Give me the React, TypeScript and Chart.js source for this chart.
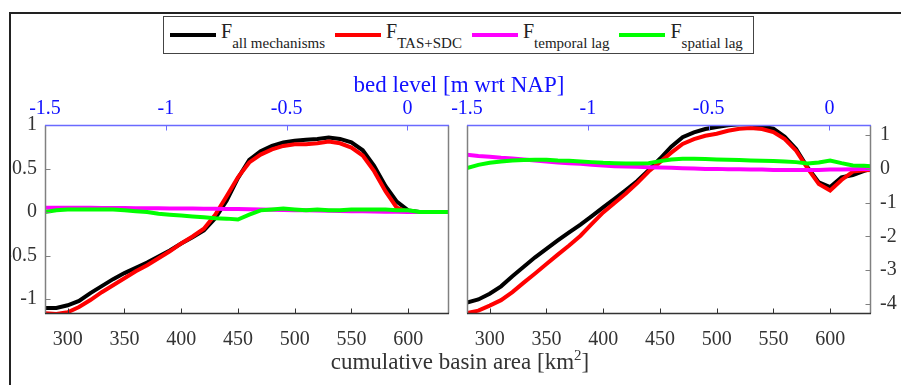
import React, { useEffect, useRef } from "react";
import { Chart, registerables } from "chart.js";

Chart.register(...registerables);

// ---------------- data ----------------
const basinArea = [280, 290, 300, 310, 320, 330, 340, 350, 360, 370, 380, 390, 400, 410, 420, 430, 440, 450, 460, 470, 480, 490, 500, 510, 520, 530, 540, 550, 560, 570, 580, 590, 600, 610, 620, 630, 636];

const leftAllMechanisms = [-1.10, -1.10, -1.07, -1.02, -0.93, -0.85, -0.77, -0.70, -0.64, -0.58, -0.51, -0.44, -0.36, -0.29, -0.21, -0.07, 0.13, 0.39, 0.60, 0.70, 0.76, 0.80, 0.82, 0.83, 0.84, 0.855, 0.84, 0.80, 0.71, 0.53, 0.30, 0.12, 0.02, 0.0, 0.0, 0.0, 0.0];
const leftTasSdc = [-1.16, -1.17, -1.15, -1.09, -1.01, -0.92, -0.84, -0.76, -0.68, -0.61, -0.53, -0.45, -0.36, -0.28, -0.19, -0.03, 0.18, 0.40, 0.57, 0.66, 0.72, 0.76, 0.78, 0.78, 0.79, 0.81, 0.79, 0.74, 0.65, 0.47, 0.24, 0.05, 0.0, 0.0, 0.0, 0.0, 0.0];
const leftTemporalLag = [0.05, 0.05, 0.05, 0.05, 0.05, 0.048, 0.047, 0.046, 0.045, 0.044, 0.043, 0.042, 0.04, 0.04, 0.039, 0.038, 0.036, 0.035, 0.033, 0.03, 0.028, 0.025, 0.022, 0.02, 0.018, 0.015, 0.013, 0.011, 0.009, 0.007, 0.005, 0.003, 0.002, 0.0, 0.0, 0.0, 0.0];
const leftSpatialLag = [0.0, 0.02, 0.03, 0.03, 0.03, 0.03, 0.03, 0.02, 0.01, 0.0, -0.02, -0.03, -0.04, -0.05, -0.06, -0.07, -0.075, -0.085, -0.03, 0.02, 0.03, 0.04, 0.03, 0.02, 0.03, 0.02, 0.02, 0.03, 0.03, 0.03, 0.03, 0.02, 0.02, 0.0, 0.0, 0.0, 0.0];

const rightAllMechanisms = [-3.96, -3.87, -3.70, -3.48, -3.18, -2.90, -2.62, -2.37, -2.12, -1.88, -1.65, -1.40, -1.14, -0.89, -0.63, -0.36, -0.04, 0.30, 0.66, 0.94, 1.08, 1.18, 1.24, 1.29, 1.32, 1.32, 1.25, 1.19, 0.95, 0.59, 0.05, -0.40, -0.54, -0.25, -0.18, -0.06, 0.0];
const rightTasSdc = [-4.27, -4.20, -4.05, -3.89, -3.65, -3.37, -3.10, -2.82, -2.54, -2.27, -1.98, -1.63, -1.29, -1.01, -0.73, -0.42, -0.08, 0.20, 0.48, 0.74, 0.88, 0.98, 1.04, 1.13, 1.19, 1.21, 1.18, 1.09, 0.88, 0.54, 0.02, -0.45, -0.64, -0.33, -0.08, -0.04, -0.03];
const rightTemporalLag = [0.42, 0.38, 0.36, 0.33, 0.31, 0.28, 0.25, 0.22, 0.19, 0.17, 0.15, 0.12, 0.10, 0.08, 0.07, 0.06, 0.05, 0.04, 0.03, 0.02, 0.01, 0.0, 0.0, -0.01, -0.01, -0.02, -0.02, -0.03, -0.03, -0.03, -0.03, -0.03, -0.02, -0.02, -0.01, 0.0, 0.0];
const rightSpatialLag = [0.02, 0.12, 0.18, 0.22, 0.25, 0.26, 0.27, 0.27, 0.25, 0.24, 0.22, 0.20, 0.18, 0.17, 0.16, 0.16, 0.17, 0.23, 0.28, 0.30, 0.30, 0.29, 0.28, 0.27, 0.26, 0.25, 0.24, 0.23, 0.22, 0.20, 0.16, 0.19, 0.25, 0.17, 0.10, 0.09, 0.08];

const seriesSubscripts = ["all mechanisms", "TAS+SDC", "temporal lag", "spatial lag"];
const seriesColors = ["#000000", "#ff0000", "#ff00ff", "#00ff00"];

const areaTicks = [300, 350, 400, 450, 500, 550, 600];
const bedLevelTicks = [-1.5, -1, -0.5, 0];
const leftYTicks = [-1, -0.5, 0, 0.5, 1];
const rightYTicks = [-4, -3, -2, -1, 0, 1];

const bottomTitle = "cumulative basin area [km";
const topTitle = "bed level [m wrt NAP]";

// ---------------- styling ----------------
const FONT = '"Liberation Serif", "Times New Roman", serif';
const AXIS_TEXT = "#333333";
const BLUE_TEXT = "#1010ff";
const BLUE_LINE = "#6a6aff";
const GRAY_LINE = "#808080";

const framePlugin = {
  id: "panelFrame",
  afterDraw(chart: any, _args: any, opts: any) {
    const { ctx, chartArea: a, scales } = chart;
    const line = (x1: number, y1: number, x2: number, y2: number, color: string, w: number) => {
      ctx.beginPath();
      ctx.strokeStyle = color;
      ctx.lineWidth = w;
      ctx.moveTo(x1, y1);
      ctx.lineTo(x2, y2);
      ctx.stroke();
    };
    ctx.save();
    const L = Math.round(a.left) + 0.5;
    const R = Math.round(a.right) - 0.5;
    const T = Math.round(a.top) + 0.5;
    const B = Math.round(a.bottom) - 0.5;
    const tl = 5;
    scales.x.ticks.forEach((t: any) => {
      const px = Math.round(scales.x.getPixelForValue(t.value)) + 0.5;
      line(px, B, px, B - tl, AXIS_TEXT, 1);
    });
    scales.x2.ticks.forEach((t: any) => {
      const px = Math.round(scales.x2.getPixelForValue(t.value)) + 0.5;
      line(px, T, px, T + tl, BLUE_LINE, 1);
    });
    scales.y.ticks.forEach((t: any) => {
      const py = Math.round(scales.y.getPixelForValue(t.value)) + 0.5;
      if (opts.ySide === "right") line(R, py, R - tl, py, GRAY_LINE, 1);
      else line(L, py, L + tl, py, GRAY_LINE, 1);
    });
    line(L, T, L, B, GRAY_LINE, 1.5);
    line(R, T, R, B, GRAY_LINE, 1.5);
    line(a.left, B, a.right, B, AXIS_TEXT, 1.5);
    line(a.left, T, a.right, T, BLUE_LINE, 1.5);
    ctx.restore();
  },
};

const plainLabel = (v: any) => String(v);
const noPad = (s: any) => {
  s.paddingLeft = 0;
  s.paddingRight = 0;
  s.paddingTop = 0;
  s.paddingBottom = 0;
};

function buildConfig(series: number[][], yMin: number, yMax: number, yTicks: number[], ySide: "left" | "right") {
  const datasets = series.map((vals, i) => ({
    label: "F " + seriesSubscripts[i],
    data: basinArea.map((x, k) => ({ x, y: vals[k] })),
    borderColor: seriesColors[i],
    backgroundColor: seriesColors[i],
    borderWidth: 4,
    pointRadius: 0,
    tension: 0,
    fill: false,
    order: series.length - i,
  }));
  const tickFont = { family: FONT, size: 20 };
  return {
    type: "line" as const,
    data: { datasets },
    options: {
      animation: false as const,
      responsive: false,
      events: [],
      layout: { padding: ySide === "left" ? { left: 0, right: 11, top: 0, bottom: 0 } : { left: 22, right: 0, top: 0, bottom: 0 } },
      plugins: { legend: { display: false }, tooltip: { enabled: false }, panelFrame: { ySide } },
      scales: {
        x: {
          type: "linear" as const,
          position: "bottom" as const,
          min: 280,
          max: 636,
          grid: { display: false, drawTicks: false },
          border: { display: false },
          afterBuildTicks: (s: any) => { s.ticks = areaTicks.map((v) => ({ value: v })); },
          afterFit: (s: any) => { s.height = 46; noPad(s); },
          ticks: { font: tickFont, color: AXIS_TEXT, padding: 14, maxRotation: 0, autoSkip: false, callback: plainLabel },
        },
        x2: {
          type: "linear" as const,
          position: "top" as const,
          min: -1.5,
          max: 0.172,
          grid: { display: false, drawTicks: false },
          border: { display: false },
          afterBuildTicks: (s: any) => { s.ticks = bedLevelTicks.map((v) => ({ value: v })); },
          afterFit: (s: any) => { s.height = 65; noPad(s); },
          ticks: { font: tickFont, color: BLUE_TEXT, padding: 4, maxRotation: 0, autoSkip: false, callback: plainLabel },
        },
        y: {
          type: "linear" as const,
          position: ySide,
          min: yMin,
          max: yMax,
          grid: { display: false, drawTicks: false },
          border: { display: false },
          afterBuildTicks: (s: any) => { s.ticks = yTicks.map((v) => ({ value: v })); },
          afterFit: (s: any) => { s.width = ySide === "left" ? 34 : 30; noPad(s); },
          ticks: { font: tickFont, color: AXIS_TEXT, padding: ySide === "left" ? 8 : 9, autoSkip: false, callback: plainLabel },
        },
      },
    },
    plugins: [framePlugin],
  };
}

export default function App() {
  const leftRef = useRef<HTMLCanvasElement>(null);
  const rightRef = useRef<HTMLCanvasElement>(null);

  useEffect(() => {
    const left = new Chart(
      leftRef.current as HTMLCanvasElement,
      buildConfig([leftAllMechanisms, leftTasSdc, leftTemporalLag, leftSpatialLag], -1.17, 1.0, leftYTicks, "left") as any
    );
    const right = new Chart(
      rightRef.current as HTMLCanvasElement,
      buildConfig([rightAllMechanisms, rightTasSdc, rightTemporalLag, rightSpatialLag], -4.3, 1.3, rightYTicks, "right") as any
    );
    return () => {
      left.destroy();
      right.destroy();
    };
  }, []);

  return (
    <div style={{ position: "absolute", left: 0, top: 0, width: 901, height: 385, overflow: "hidden", background: "#fff", fontFamily: FONT }}>
      <div style={{ position: "absolute", left: 9, top: 12, width: 920, height: 400, borderTop: "2px solid #222", borderLeft: "2px solid #222" }} />
      <canvas ref={leftRef} width={449} height={300} style={{ position: "absolute", left: 11, top: 60, width: 449, height: 300 }} />
      <canvas ref={rightRef} width={456} height={300} style={{ position: "absolute", left: 445, top: 60, width: 456, height: 300 }} />

      <div
        style={{
          position: "absolute", left: 163, top: 16, width: 591, height: 38, boxSizing: "border-box",
          border: "1px solid #444", background: "#fff", display: "flex", alignItems: "flex-start", paddingLeft: 6, gap: 10,
        }}
      >
        {seriesSubscripts.map((name, i) => (
          <div key={name} style={{ display: "flex", alignItems: "flex-start", whiteSpace: "nowrap" }}>
            <div style={{ width: 46, height: 4, marginTop: 15.5, background: seriesColors[i] }} />
            <span style={{ marginLeft: 5, marginTop: 4, fontSize: 20, lineHeight: "20px", color: "#222" }}>
              F<span style={{ fontSize: 15, verticalAlign: "-10px", lineHeight: "15px" }}>{name}</span>
            </span>
          </div>
        ))}
      </div>

      <div style={{ position: "absolute", left: 259, width: 400, top: 70, textAlign: "center", fontSize: 23, lineHeight: "30px", color: BLUE_TEXT, whiteSpace: "nowrap" }}>
        {topTitle}
      </div>
      <div style={{ position: "absolute", left: 260, width: 400, top: 347, textAlign: "center", fontSize: 23, lineHeight: "30px", color: AXIS_TEXT, whiteSpace: "nowrap" }}>
        {bottomTitle}
        <sup style={{ fontSize: 15, verticalAlign: "9px", lineHeight: 0 }}>2</sup>]
      </div>
    </div>
  );
}
